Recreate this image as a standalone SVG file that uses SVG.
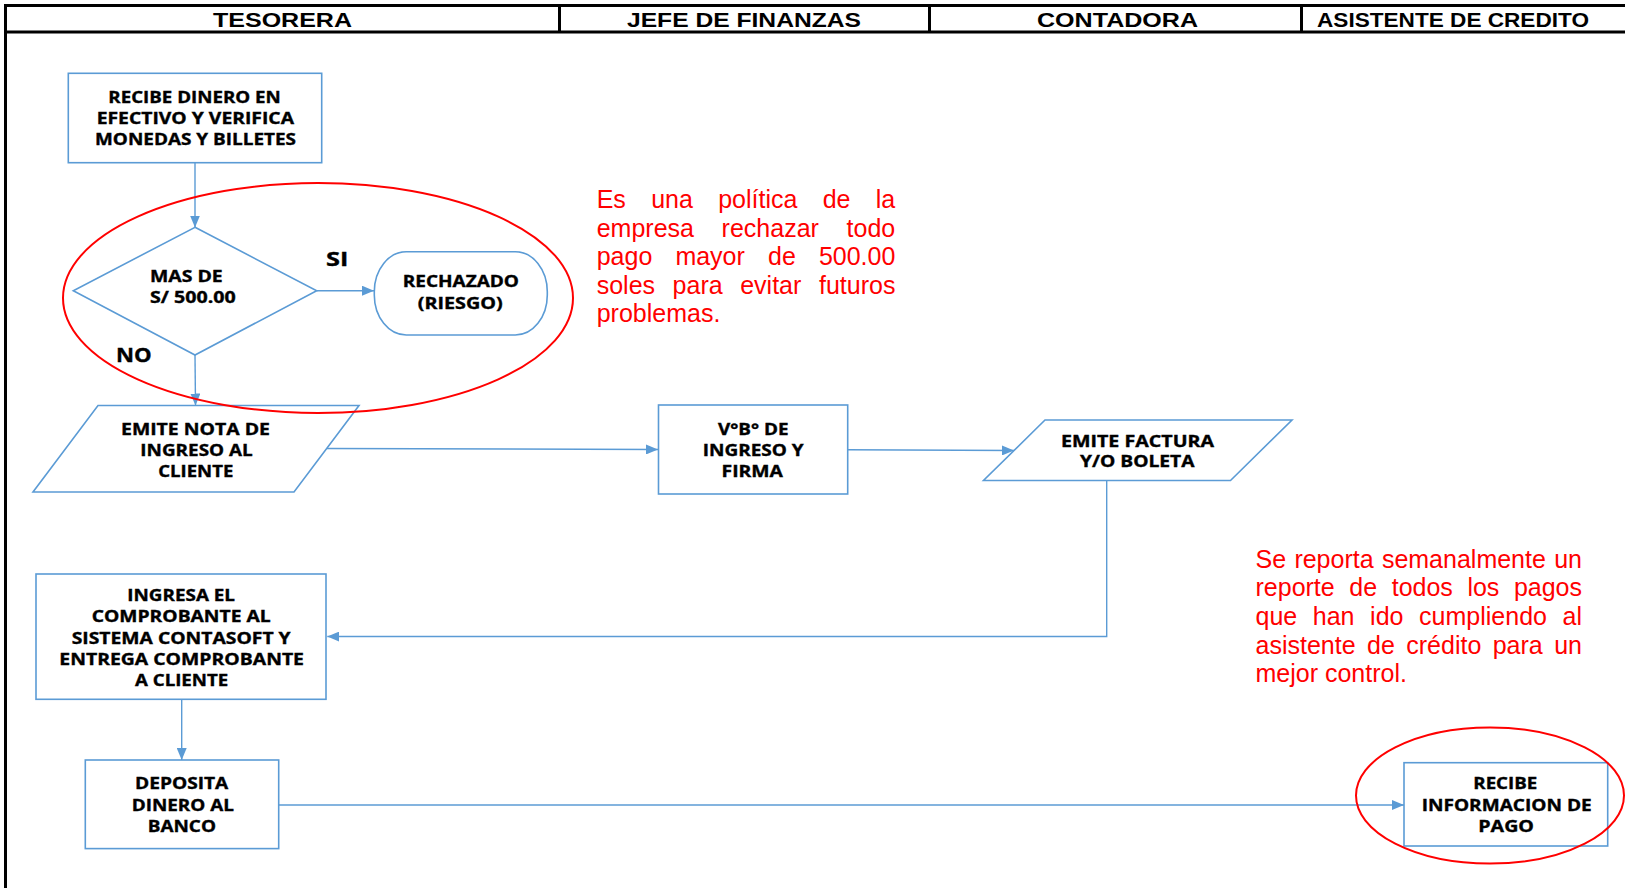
<svg xmlns="http://www.w3.org/2000/svg" width="1625" height="888" viewBox="0 0 1625 888">
<style>
.hdr{font-family:"Liberation Sans",Arial,sans-serif;font-weight:bold;font-size:19.5px;fill:#000}
.lane{stroke:#000;stroke-width:3;fill:none}
.node{fill:#fff;stroke:#5B9BD5;stroke-width:1.6}
.t{font-family:"Open Sans","Noto Sans",sans-serif;font-weight:bold;font-size:15.5px;fill:#000;stroke:#000;stroke-width:0.35}
.lbl{font-family:"Open Sans","Noto Sans",sans-serif;font-weight:bold;font-size:19px;fill:#000;stroke:#000;stroke-width:0.35}
.conn{fill:none;stroke:#5B9BD5;stroke-width:1.4}
.note{font-family:"Liberation Sans",Arial,sans-serif;font-size:25px;fill:#FF0000}
.mark{fill:none;stroke:#FF0000;stroke-width:2}
</style>
<defs>
<marker id="arr" viewBox="0 0 12 10" refX="12" refY="5" markerWidth="12" markerHeight="10" markerUnits="userSpaceOnUse" orient="auto">
<path d="M0,0 L12,5 L0,10 z" fill="#5B9BD5"/>
</marker>
</defs>
<rect x="0" y="0" width="1625" height="888" fill="#fff"/>

<g id="lanes">
<line class="lane" x1="4" y1="5.5" x2="1625" y2="5.5"/>
<line class="lane" x1="4" y1="32" x2="1625" y2="32"/>
<line class="lane" x1="5.5" y1="4" x2="5.5" y2="888"/>
<line class="lane" x1="559.5" y1="5.5" x2="559.5" y2="32"/>
<line class="lane" x1="929.5" y1="5.5" x2="929.5" y2="32"/>
<line class="lane" x1="1301.5" y1="5.5" x2="1301.5" y2="32"/>
<text class="hdr" x="213" y="27" textLength="139" lengthAdjust="spacingAndGlyphs">TESORERA</text>
<text class="hdr" x="627" y="27" textLength="234" lengthAdjust="spacingAndGlyphs">JEFE DE FINANZAS</text>
<text class="hdr" x="1037" y="27" textLength="161" lengthAdjust="spacingAndGlyphs">CONTADORA</text>
<text class="hdr" x="1317" y="27" textLength="272" lengthAdjust="spacingAndGlyphs">ASISTENTE DE CREDITO</text>
</g>

<g id="connectors">
<line class="conn" x1="195" y1="163" x2="195" y2="227.5" marker-end="url(#arr)"/>
<line class="conn" x1="316.7" y1="290.7" x2="374" y2="290.7" marker-end="url(#arr)"/>
<line class="conn" x1="195" y1="355" x2="195.5" y2="405.5" marker-end="url(#arr)"/>
<line class="conn" x1="327" y1="448.5" x2="658" y2="449.5" marker-end="url(#arr)"/>
<line class="conn" x1="847.7" y1="449.8" x2="1014" y2="450.5" marker-end="url(#arr)"/>
<polyline class="conn" points="1106.7,480.5 1106.7,636.5 327.3,636.5" marker-end="url(#arr)"/>
<line class="conn" x1="181.7" y1="699.3" x2="181.7" y2="760" marker-end="url(#arr)"/>
<line class="conn" x1="278.7" y1="805" x2="1404" y2="805" marker-end="url(#arr)"/>
</g>

<g id="n-recibe-dinero">
<rect class="node" x="68.3" y="73.3" width="253.4" height="89.4"/>
<text class="t" x="108.3" y="102.7" textLength="172.4" lengthAdjust="spacingAndGlyphs">RECIBE DINERO EN</text>
<text class="t" x="96.7" y="124" textLength="197.3" lengthAdjust="spacingAndGlyphs">EFECTIVO Y VERIFICA</text>
<text class="t" x="95" y="145.3" textLength="201" lengthAdjust="spacingAndGlyphs">MONEDAS Y BILLETES</text>
</g>

<g id="n-decision">
<polygon class="node" points="195,227.3 316.7,290.7 195,355 73.3,290.7"/>
<text class="t" x="150" y="281.7" textLength="72.7" lengthAdjust="spacingAndGlyphs">MAS DE</text>
<text class="t" x="150" y="303.3" textLength="85.7" lengthAdjust="spacingAndGlyphs">S/ 500.00</text>
</g>

<g id="lbl-si">
<text class="lbl" x="326" y="265.7" textLength="22.3" lengthAdjust="spacingAndGlyphs">SI</text>
</g>
<g id="lbl-no">
<text class="lbl" x="116" y="361.7" textLength="35.7" lengthAdjust="spacingAndGlyphs">NO</text>
</g>

<g id="n-rechazado">
<rect class="node" x="374.3" y="251.7" width="173" height="83.3" rx="32" ry="40"/>
<text class="t" x="402.7" y="286.7" textLength="116.3" lengthAdjust="spacingAndGlyphs">RECHAZADO</text>
<text class="t" x="417.7" y="308.5" textLength="85" lengthAdjust="spacingAndGlyphs">(RIESGO)</text>
</g>

<g id="n-emite-nota">
<polygon class="node" points="98,405.5 359,405.5 294,492 33,492"/>
<text class="t" x="121" y="434.5" textLength="149" lengthAdjust="spacingAndGlyphs">EMITE NOTA DE</text>
<text class="t" x="140.3" y="455.8" textLength="112.4" lengthAdjust="spacingAndGlyphs">INGRESO AL</text>
<text class="t" x="158.3" y="476.8" textLength="75" lengthAdjust="spacingAndGlyphs">CLIENTE</text>
</g>

<g id="n-vobo">
<rect class="node" x="658.5" y="405" width="189.2" height="89"/>
<text class="t" x="718" y="434.5" textLength="70.5" lengthAdjust="spacingAndGlyphs">V°B° DE</text>
<text class="t" x="702.7" y="455.8" textLength="101" lengthAdjust="spacingAndGlyphs">INGRESO Y</text>
<text class="t" x="721.5" y="476.8" textLength="61.5" lengthAdjust="spacingAndGlyphs">FIRMA</text>
</g>

<g id="n-emite-factura">
<polygon class="node" points="1045,420 1292,420 1230.5,480.5 983.5,480.5"/>
<text class="t" x="1061" y="446.5" textLength="153" lengthAdjust="spacingAndGlyphs">EMITE FACTURA</text>
<text class="t" x="1080" y="467.3" textLength="114.5" lengthAdjust="spacingAndGlyphs">Y/O BOLETA</text>
</g>

<g id="n-ingresa">
<rect class="node" x="36" y="574" width="290" height="125.3"/>
<text class="t" x="127.3" y="601" textLength="107.7" lengthAdjust="spacingAndGlyphs">INGRESA EL</text>
<text class="t" x="91.7" y="622.3" textLength="179" lengthAdjust="spacingAndGlyphs">COMPROBANTE AL</text>
<text class="t" x="71.7" y="643.5" textLength="219" lengthAdjust="spacingAndGlyphs">SISTEMA CONTASOFT Y</text>
<text class="t" x="59.3" y="664.7" textLength="244.7" lengthAdjust="spacingAndGlyphs">ENTREGA COMPROBANTE</text>
<text class="t" x="135" y="686" textLength="93.3" lengthAdjust="spacingAndGlyphs">A CLIENTE</text>
</g>

<g id="n-deposita">
<rect class="node" x="85.3" y="760" width="193.4" height="88.6"/>
<text class="t" x="135" y="789.3" textLength="93.3" lengthAdjust="spacingAndGlyphs">DEPOSITA</text>
<text class="t" x="131.7" y="810.7" textLength="102.3" lengthAdjust="spacingAndGlyphs">DINERO AL</text>
<text class="t" x="147.7" y="831.7" textLength="68.3" lengthAdjust="spacingAndGlyphs">BANCO</text>
</g>

<g id="n-recibe-info">
<rect class="node" x="1404" y="762.7" width="203.7" height="83.3"/>
<text class="t" x="1473.3" y="789" textLength="64" lengthAdjust="spacingAndGlyphs">RECIBE</text>
<text class="t" x="1421.7" y="810.7" textLength="170" lengthAdjust="spacingAndGlyphs">INFORMACION DE</text>
<text class="t" x="1478.3" y="831.7" textLength="55.7" lengthAdjust="spacingAndGlyphs">PAGO</text>
</g>

<g id="highlights">
<ellipse class="mark" cx="318" cy="298" rx="255" ry="115"/>
<ellipse class="mark" cx="1490" cy="795.5" rx="134" ry="68"/>
</g>

<g id="note-politica">
<text class="note" y="208.3"><tspan x="596.7">Es</tspan><tspan x="651.2">una</tspan><tspan x="718.2">política</tspan><tspan x="822.7">de</tspan><tspan x="875.8">la</tspan></text>
<text class="note" y="236.8"><tspan x="596.7">empresa</tspan><tspan x="721.6">rechazar</tspan><tspan x="846.6">todo</tspan></text>
<text class="note" y="265.2"><tspan x="596.7">pago</tspan><tspan x="675.4">mayor</tspan><tspan x="768">de</tspan><tspan x="818.9">500.00</tspan></text>
<text class="note" y="293.6"><tspan x="596.7">soles</tspan><tspan x="672.6">para</tspan><tspan x="740.2">evitar</tspan><tspan x="819">futuros</tspan></text>
<text class="note" x="596.7" y="322">problemas.</text>
</g>

<g id="note-reporte">
<text class="note" y="567.7"><tspan x="1255.5">Se</tspan><tspan x="1294.4">reporta</tspan><tspan x="1381.9">semanalmente</tspan><tspan x="1554.2">un</tspan></text>
<text class="note" y="596.3"><tspan x="1255.5">reporte</tspan><tspan x="1349.3">de</tspan><tspan x="1391.7">todos</tspan><tspan x="1467.4">los</tspan><tspan x="1513.9">pagos</tspan></text>
<text class="note" y="624.9"><tspan x="1255.5">que</tspan><tspan x="1312.8">han</tspan><tspan x="1370.1">ido</tspan><tspan x="1419.1">cumpliendo</tspan><tspan x="1562.5">al</tspan></text>
<text class="note" y="653.5"><tspan x="1255.5">asistente</tspan><tspan x="1367">de</tspan><tspan x="1406.3">crédito</tspan><tspan x="1492.7">para</tspan><tspan x="1554.2">un</tspan></text>
<text class="note" x="1255.5" y="682">mejor control.</text>
</g>
</svg>
